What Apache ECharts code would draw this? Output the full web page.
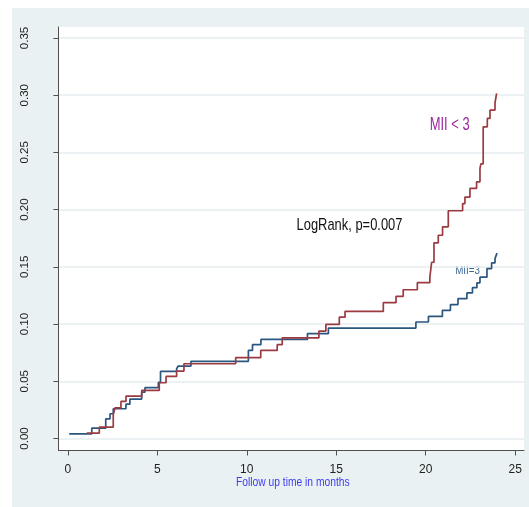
<!DOCTYPE html>
<html>
<head>
<meta charset="utf-8">
<script src="https://cdn.jsdelivr.net/npm/echarts@6/dist/echarts.min.js"></script>
<style>
  html, body { margin: 0; padding: 0; background: #ffffff; }
  #chart { position: absolute; left: 12px; top: 8px; width: 517px; height: 499px; background: #eaf1f3; }
</style>
</head>
<body>
<div id="chart"></div>
<script>
// Kaplan-Meier style cumulative incidence, step points [month, value after step]
const mii3Times  = [0.08, 1.34, 2.12, 2.36, 2.54, 3.25, 3.47, 4.13, 4.31, 5.06, 5.18, 6.08, 6.17, 6.88, 10.09, 10.32, 10.79, 13.39, 14.56, 19.45, 20.15, 20.93, 21.38, 21.80, 22.30, 22.61, 22.86, 23.03, 23.42, 23.68, 23.87, 23.98];
const mii3Values = [0.004, 0.009, 0.0172, 0.0216, 0.026, 0.030, 0.0344, 0.0405, 0.0444, 0.049, 0.0586, 0.061, 0.0633, 0.0674, 0.077, 0.082, 0.0866, 0.0916, 0.0965, 0.1018, 0.1067, 0.112, 0.117, 0.1222, 0.1272, 0.1318, 0.136, 0.141, 0.1485, 0.1534, 0.1572, 0.162];

const miiLt3Times  = [1.06, 1.76, 2.54, 2.64, 2.97, 3.25, 4.13, 5.11, 5.49, 6.08, 6.49, 9.38, 10.78, 11.70, 11.98, 14.03, 14.42, 15.17, 15.49, 17.63, 18.34, 18.74, 19.53, 20.23, 20.33, 20.46, 20.70, 20.94, 21.26, 22.06, 22.19, 22.47, 22.84, 23.03, 23.08, 23.21, 23.44, 23.59, 23.87, 23.96];
const miiLt3Values = [0.0046, 0.0099, 0.021, 0.0268, 0.0324, 0.037, 0.042, 0.0487, 0.0542, 0.0589, 0.0653, 0.0706, 0.077, 0.082, 0.088, 0.0939, 0.0997, 0.106, 0.111, 0.1187, 0.1242, 0.130, 0.1362, 0.141, 0.154, 0.171, 0.1776, 0.185, 0.199, 0.2053, 0.211, 0.2185, 0.2243, 0.236, 0.24, 0.2724, 0.2797, 0.287, 0.2934, 0.3016];

const xTicks = [0, 5, 10, 15, 20, 25];
const yTicks = [0, 0.05, 0.10, 0.15, 0.20, 0.25, 0.30, 0.35];

const xTitle = 'Follow up time in months';
const testLabel = 'LogRank, p=0.007';
const groupLabels = ['MII < 3', 'MII=3'];

const sans = "'Liberation Sans', Arial, sans-serif";

const toPairs = (ts, vs) => ts.map((t, i) => [t, vs[i]]);

function label(text, x, y, size, color, sx) {
  return {
    type: 'text', x: x, y: y, scaleX: sx,
    style: {
      text: text, fontSize: size, fontFamily: sans, fill: color,
      align: 'center', verticalAlign: 'middle',
      textAlign: 'center', textVerticalAlign: 'middle'
    }
  };
}

const chart = echarts.init(document.getElementById('chart'), null, { renderer: 'canvas' });
chart.setOption({
  animation: false,
  backgroundColor: 'transparent',
  grid: {
    left: 46.4, right: 5, top: 19, bottom: 56.5,
    show: true, backgroundColor: '#ffffff', borderWidth: 0
  },
  xAxis: {
    type: 'value',
    min: -0.525, max: 25.49,
    axisLine: { show: true, onZero: false, lineStyle: { color: '#505050', width: 1 } },
    axisTick: { show: true, length: 5, customValues: xTicks, lineStyle: { color: '#505050' } },
    axisLabel: { customValues: xTicks, margin: 13, color: '#222', fontSize: 12, fontFamily: sans },
    splitLine: { show: false }
  },
  yAxis: {
    type: 'value',
    min: -0.0105, max: 0.3596,
    axisLine: { show: true, onZero: false, lineStyle: { color: '#505050', width: 1 } },
    axisTick: { show: true, length: 5, customValues: yTicks, lineStyle: { color: '#505050' } },
    axisLabel: {
      customValues: yTicks, rotate: 90, margin: 28, color: '#222', fontSize: 11.5,
      fontFamily: sans,
      formatter: v => v.toFixed(2)
    },
    splitLine: { show: true, lineStyle: { color: '#e6eef1', width: 1.5 } }
  },
  series: [
    {
      name: groupLabels[1], type: 'line', step: 'end', showSymbol: false, symbol: 'none',
      lineStyle: { color: '#2b5680', width: 1.7 },
      data: toPairs(mii3Times, mii3Values)
    },
    {
      name: groupLabels[0], type: 'line', step: 'end', showSymbol: false, symbol: 'none',
      lineStyle: { color: '#9c3a42', width: 1.7 },
      data: toPairs(miiLt3Times, miiLt3Values)
    }
  ],
  graphic: [
    label(testLabel, 337.5, 217.5, 17, '#111', 0.76),
    label(groupLabels[0], 437.7, 117, 18, '#9b2a9e', 0.72),
    label(groupLabels[1], 455.5, 263, 11.5, '#3b6894', 0.85),
    label(xTitle, 280.8, 474.5, 13, '#3c3cf0', 0.79)
  ]
});
</script>
</body>
</html>
